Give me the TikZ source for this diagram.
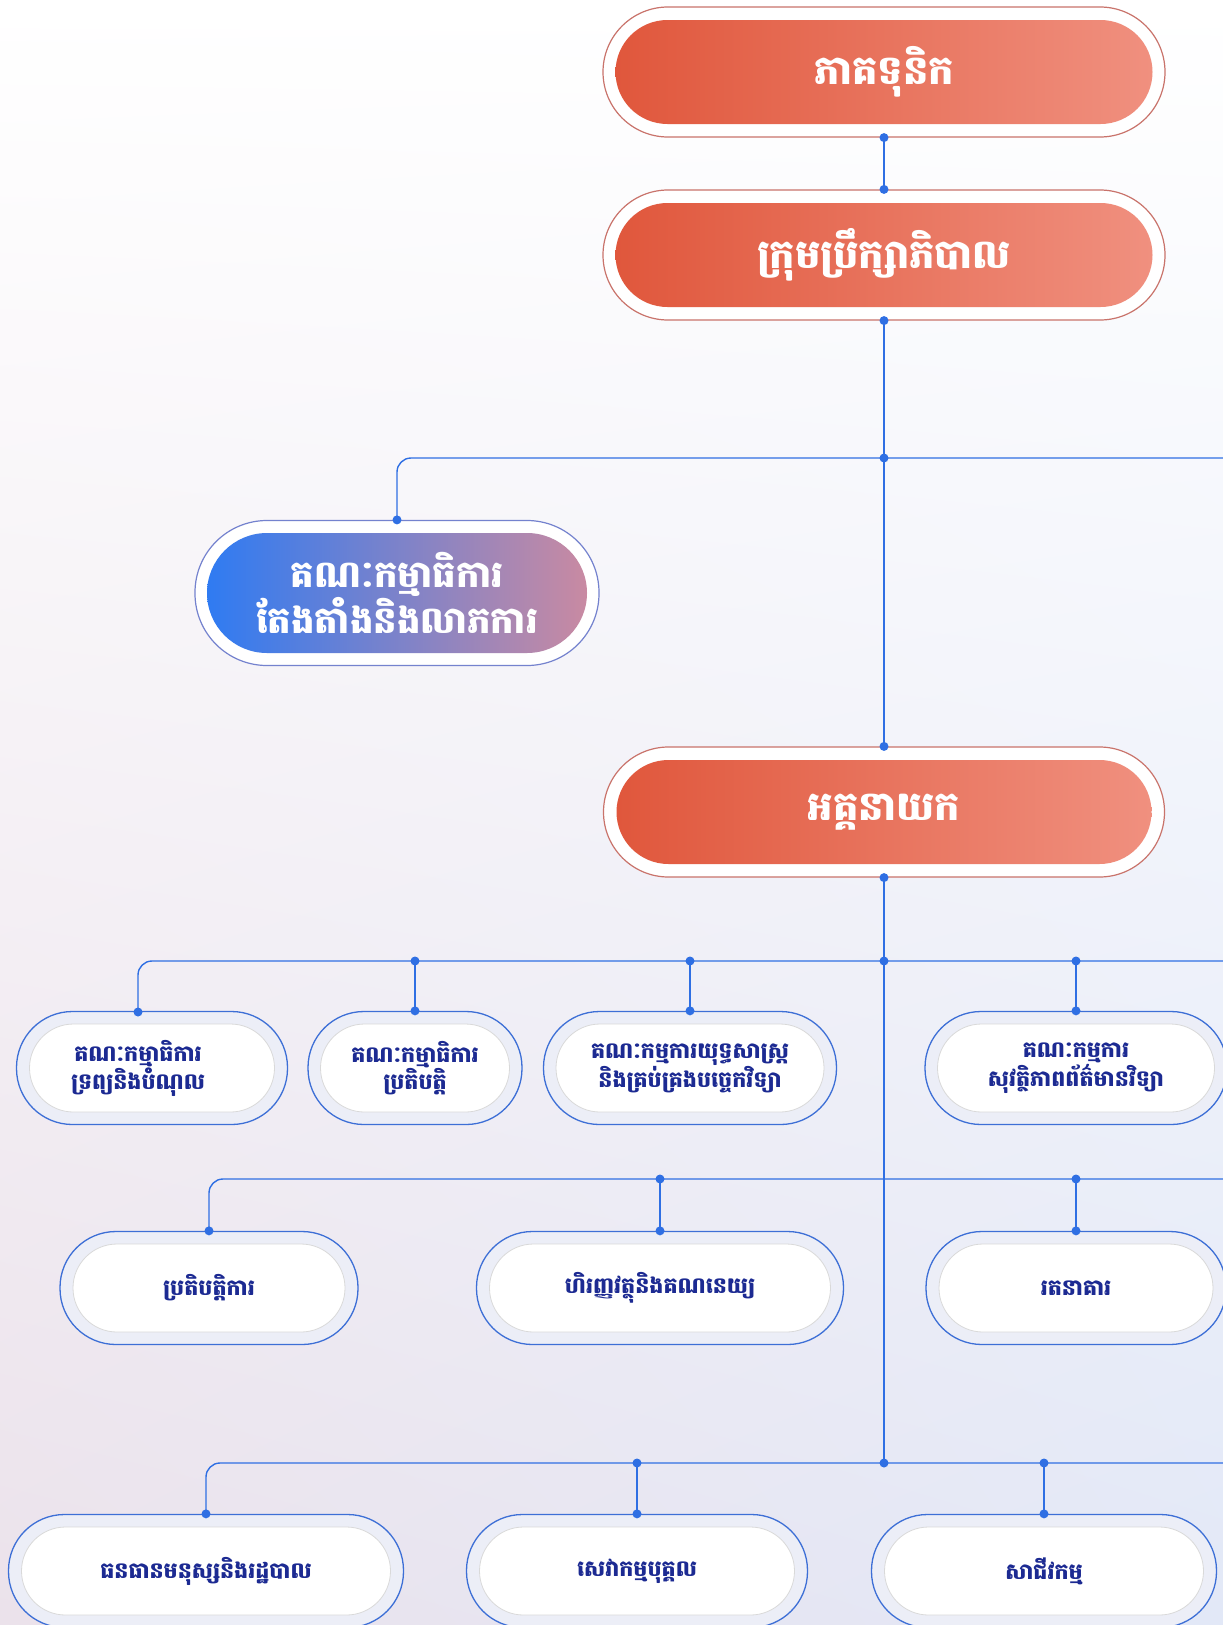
\documentclass[tikz,border=0pt]{standalone}
\usepackage{fontspec}
\usetikzlibrary{shadings}
\newfontfamily\kh[Script=Khmer]{Battambang}
\definecolor{lineblue}{HTML}{2F6FE3}
\definecolor{redL}{HTML}{E0573C}
\definecolor{redR}{HTML}{F0907F}
\definecolor{ringred}{HTML}{C9736B}
\definecolor{blueL}{HTML}{2F7BF2}
\definecolor{blueR}{HTML}{C98AA2}
\definecolor{navy}{HTML}{1C2A92}
\definecolor{ringblue}{HTML}{3D6FD6}
\definecolor{ringfill}{HTML}{ECEEF7}
\definecolor{bgBL}{HTML}{EBE2EB}
\definecolor{bgBR}{HTML}{E2E8F7}
\begin{document}
\begin{tikzpicture}[x=1pt,y=-1pt,
  redring/.style={draw=ringred, line width=1.2pt, fill=white, rounded corners=65pt,
     minimum width=#1, minimum height=130pt, inner sep=0pt},
  redfill/.style={left color=redL, right color=redR, rounded corners=52pt,
     minimum width=#1, minimum height=104pt, inner sep=0pt, text=white,
     font=\kh\bfseries\fontsize{40}{48}\selectfont},
  bluering/.style={draw=blueL!55!blueR, line width=1.2pt, fill=white, rounded corners=72pt,
     minimum width=#1, minimum height=145pt, inner sep=0pt},
  bluefill/.style={left color=blueL, right color=blueR, rounded corners=60pt,
     minimum width=#1, minimum height=120pt, inner sep=0pt, text=white, align=center,
     font=\kh\bfseries\fontsize{37}{44}\selectfont},
  wring/.style={draw=ringblue, line width=1.3pt, fill=ringfill, rounded corners=56pt,
     minimum width=#1, minimum height=113pt, inner sep=0pt},
  wfill/.style={draw=black!15, line width=0.8pt, fill=white, rounded corners=44pt,
     minimum width=#1, minimum height=88pt, inner sep=0pt, text=navy, align=center,
     font=\kh\bfseries\fontsize{22.2}{26.5}\selectfont},
  wtext/.style={text=navy, align=center, inner sep=0pt,
     font=\kh\bfseries\fontsize{22.2}{26.5}\selectfont},
  conn/.style={draw=lineblue, line width=1.4pt},
  dot/.style={fill=lineblue}
]
\useasboundingbox (0,0) rectangle (1223,1625);
\clip (0,0) rectangle (1223,1625);
\shade[upper left=white, upper right=white, lower left=bgBL, lower right=bgBR] (0,0) rectangle (1223,1625);

% top boxes
\node[redring=562pt] (o1) at (884,72) {};
\node[redfill=537pt] (n1) at (884,72) {ភាគទុនិក};
\node[redring=562pt] (o2) at (884,255) {};
\node[redfill=537pt] (n2) at (884,255) {ក្រុមប្រឹក្សាភិបាល};
\node[bluering=404pt] (o3) at (397,593) {};
\node[bluefill=380pt] (n3) at (397,593) {គណៈកម្មាធិការ\\តែងតាំងនិងលាភការ};
\node[redring=561pt] (o4) at (884,812) {};
\node[redfill=535pt] (n4) at (884,812) {អគ្គនាយក};

% row 1
\node[wring=271pt] (oa) at (152,1068) {};
\node[wfill=245pt] (na) at (152,1068) {};
\node[wtext] (ta) at (138,1068) {គណៈកម្មាធិការ\\ទ្រព្យនិងបំណុល};
\node[wring=214pt] (ob) at (415,1068) {};
\node[wfill=189pt] (nb) at (415,1068) {គណៈកម្មាធិការ\\ប្រតិបត្តិ};
\node[wring=293pt] (oc) at (690,1068) {};
\node[wfill=268pt] (nc) at (690,1068) {គណៈកម្មការយុទ្ធសាស្រ្ត\\និងគ្រប់គ្រងបច្ចេកវិទ្យា};
\node[wring=302pt] (od) at (1076,1068) {};
\node[wfill=277pt] (nd) at (1076,1068) {គណៈកម្មការ\\សុវត្ថិភាពព័ត៌មានវិទ្យា};

% row 2
\node[wring=298pt] (oe) at (209,1288) {};
\node[wfill=272pt] (ne) at (209,1288) {ប្រតិបត្តិការ};
\node[wring=367pt] (of) at (660,1288) {};
\node[wfill=341pt] (nf) at (660,1288) {ហិរញ្ញវត្ថុនិងគណនេយ្យ};
\node[wring=300pt] (og) at (1076,1288) {};
\node[wfill=274pt] (ng) at (1076,1288) {រតនាគារ};

% row 3
\node[wring=395pt] (oh) at (206,1571) {};
\node[wfill=369pt] (nh) at (206,1571) {ធនធានមនុស្សនិងរដ្ឋបាល};
\node[wring=341pt] (oi) at (637,1571) {};
\node[wfill=315pt] (ni) at (637,1571) {សេវាកម្មបុគ្គល};
\node[wring=345pt] (oj) at (1044,1571) {};
\node[wfill=319pt] (nj) at (1044,1571) {សាជីវកម្ម};

% junction coordinates
\coordinate (j0) at (884,458);
\coordinate (e0) at (1240,458);
\coordinate (j1) at (884,961);
\coordinate (e1) at (1240,961);
\coordinate (e2) at (1240,1179);
\coordinate (j3) at (884,1463);
\coordinate (e3) at (1240,1463);
\coordinate (ta0) at (138,1012);

% connectors
\draw[conn] (o1.south) -- (o2.north);
\draw[conn] (o2.south) -- (o4.north);
\draw[conn, rounded corners=14pt] (e0) -| (o3.north);
\draw[conn] (o4.south) -- (j3);
\draw[conn, rounded corners=14pt] (e1) -| (ta0);
\draw[conn] (ob.north) -- (ob.north |- j1);
\draw[conn] (oc.north) -- (oc.north |- j1);
\draw[conn] (od.north) -- (od.north |- j1);
\draw[conn, rounded corners=14pt] (e2) -| (oe.north);
\draw[conn] (of.north) -- (of.north |- e2);
\draw[conn] (og.north) -- (og.north |- e2);
\draw[conn, rounded corners=14pt] (e3) -| (oh.north);
\draw[conn] (oi.north) -- (oi.north |- j3);
\draw[conn] (oj.north) -- (oj.north |- j3);

% dots
\foreach \p in {o1.south, o2.north, o2.south, j0, o3.north, o4.north, o4.south,
  j1, ta0, ob.north, oc.north, od.north, j3, oe.north, of.north, og.north,
  oh.north, oi.north, oj.north}
  \fill[dot] (\p) circle (4.5pt);
\foreach \x in {415,690,1076} \fill[dot] (\x,961) circle (4.5pt);
\foreach \x in {660,1076} \fill[dot] (\x,1179) circle (4.5pt);
\foreach \x in {637,1044} \fill[dot] (\x,1463) circle (4.5pt);
\end{tikzpicture}
\end{document}
